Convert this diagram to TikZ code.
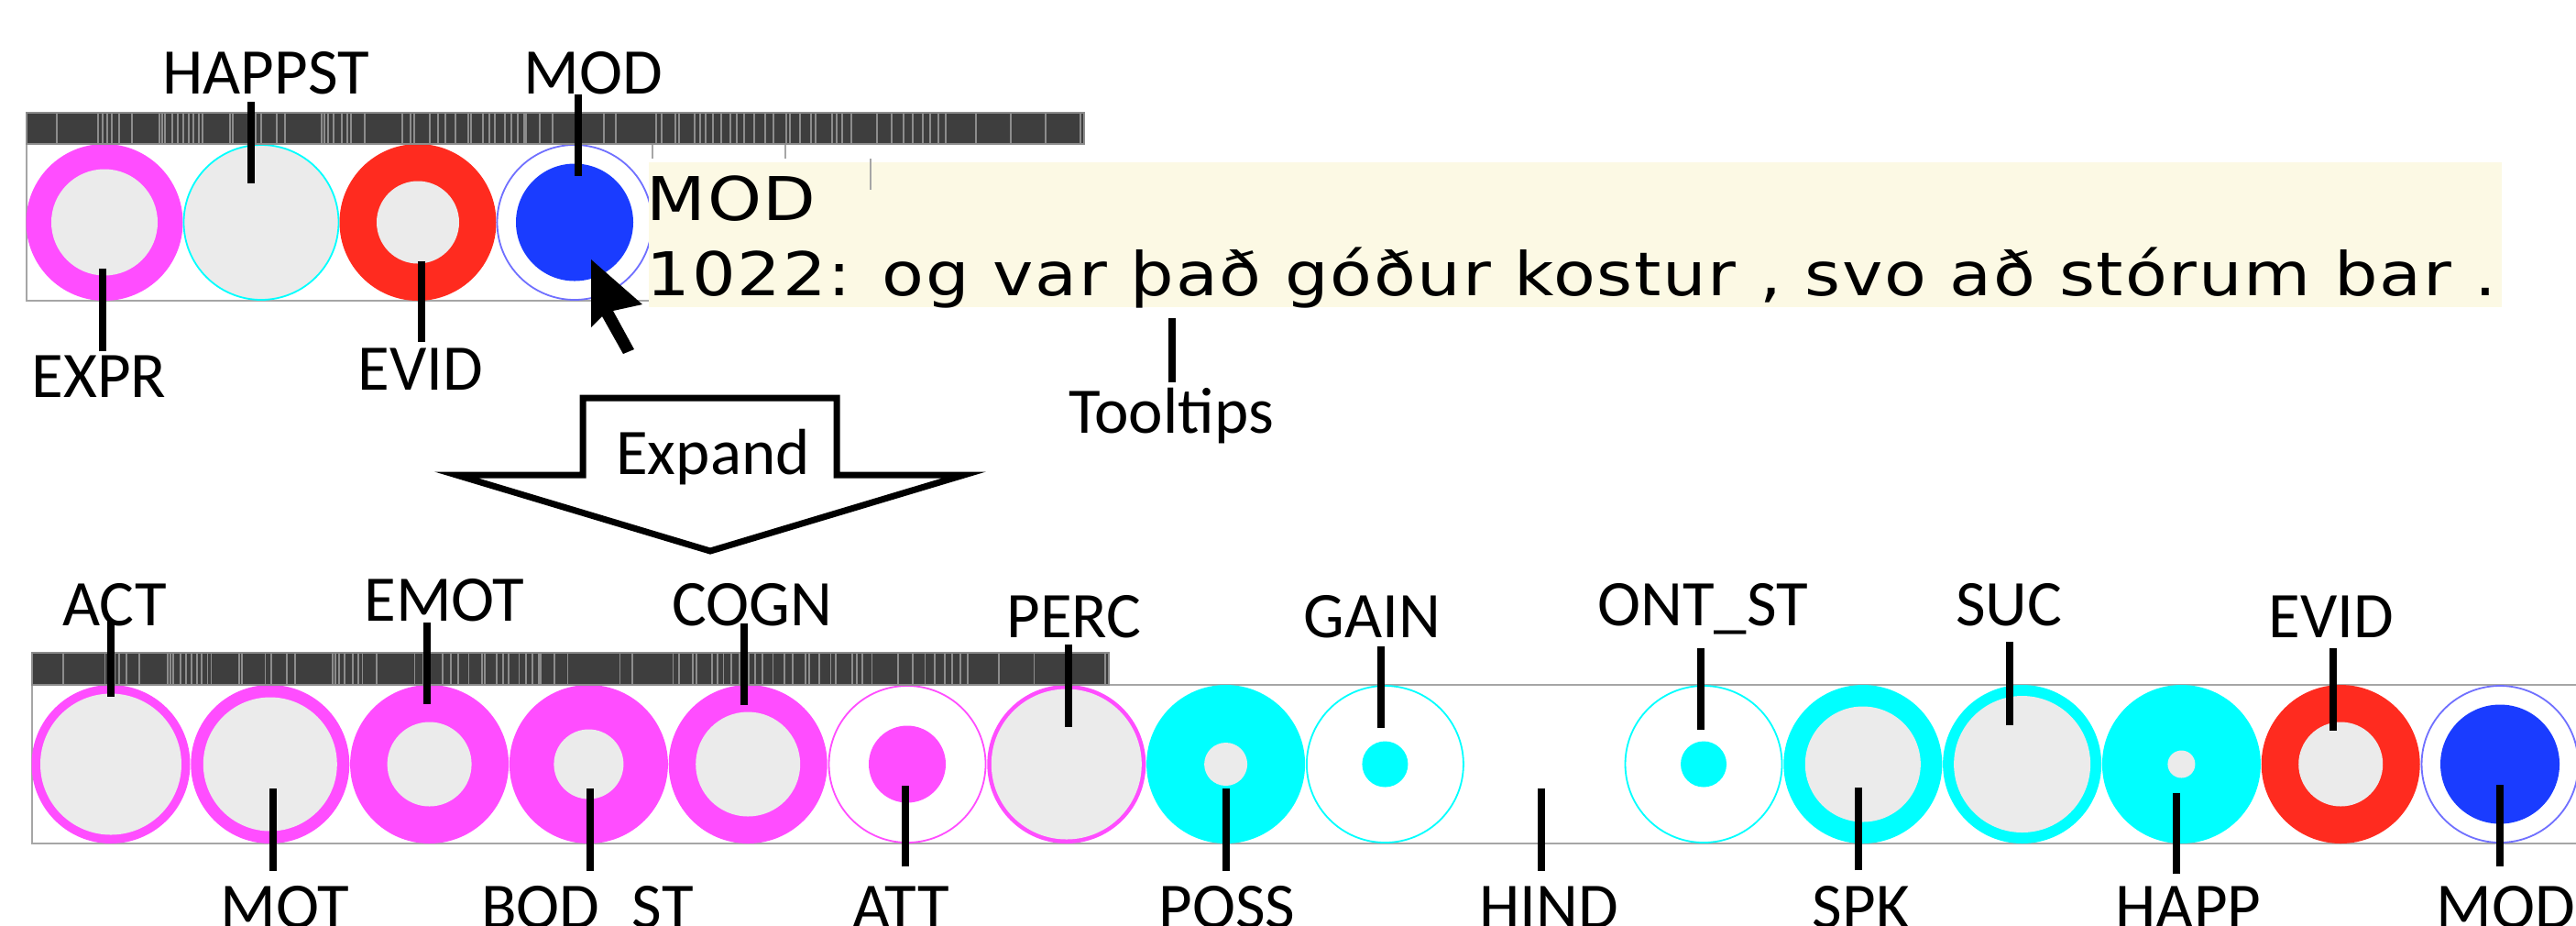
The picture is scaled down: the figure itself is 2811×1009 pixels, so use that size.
\documentclass[tikz,border=0pt]{standalone}
\usepackage{fontspec}
\setmainfont{Carlito}
\newfontfamily\tipfont[FakeStretch=1.14,LetterSpace=2.6]{DejaVu Sans}
\definecolor{mag}{HTML}{FF4DFF}
\definecolor{cya}{HTML}{00FFFF}
\definecolor{rd}{HTML}{FF2B1F}
\definecolor{bl}{HTML}{1A3CFF}
\definecolor{blo}{HTML}{7070FF}
\definecolor{gbg}{HTML}{EBEBEB}
\definecolor{barc}{HTML}{3E3E3E}
\definecolor{barl}{HTML}{8C8C8C}
\definecolor{frm}{HTML}{A6A6A6}
\definecolor{tipbg}{HTML}{FCF9E4}
% ring: x, y, R, colour, inner grey radius
\newcommand{\RingDisk}[5]{\fill[#4] (#1,#2) circle[radius=#3]; \fill[gbg] (#1,#2) circle[radius=#5];}
% thin outline with white fill and a coloured disk: x, y, R, outline colour, disk colour, disk radius
\newcommand{\DotDisk}[6]{\draw[#4, line width=0.45pt, fill=white] (#1,#2) circle[radius=#3-1]; \fill[#5] (#1,#2) circle[radius=#6];}
% callout: name, text, text x, baseline y, line x, line start y (near text), line end y
\newcommand{\Callout}[7]{\node[lab] (t#1) at (#3,#4) {#2}; \coordinate (e#1) at (#5,#7); \draw[leader] (t#1.base -| e#1) ++(0,#6-#4) -- (e#1);}
\def\barpos{33, 78, 83, 88, 93, 101, 115, 145, 148, 151, 159, 165, 171, 177, 182, 188, 192, 222, 225, 250, 256, 273, 282, 322, 325, 329, 335, 344, 350, 354, 369, 410, 419, 423, 440, 449, 457, 468, 482, 485, 498, 505, 511, 522, 529, 536, 543, 545, 560, 574, 630, 643, 687, 693, 708, 712, 729, 735, 741, 749, 758, 768, 775, 783, 794, 806, 815, 829, 833, 844, 856, 861, 879, 884, 890, 900, 928, 944, 957, 967, 978, 986, 995, 1003, 1036, 1074, 1112, 1150}
\begin{document}
\begin{tikzpicture}[x=0.25pt,y=-0.25pt,
 lab/.style={anchor=base, inner sep=0pt, font=\fontsize{17.75pt}{21pt}\selectfont},
 leader/.style={line width=1.85pt, black},
 framel/.style={draw=frm, line width=0.5pt},
 barbox/.style={fill=barc, draw=barl, line width=0.4pt},
 barline/.style={draw=barl, line width=0.45pt},
 tip/.style={anchor=base west, inner sep=0pt, font=\tipfont\fontsize{16.45pt}{20pt}\selectfont},
 tick/.style={draw=frm, line width=0.4pt},
]
\useasboundingbox (0,0) rectangle (2811,1009);
\fill[white] (0,0) rectangle (2811,1009);

% ---------- top panel ----------
\draw[framel] (1183,157) -- (29,157) -- (29,328) -- (708,328);
\RingDisk{114}{242.5}{85.5}{mag}{58}
\draw[cya, line width=0.45pt, fill=gbg] (285,242.5) circle[radius=84.5];
\RingDisk{456}{242.5}{85.5}{rd}{45}
\DotDisk{627}{242.5}{85.5}{blo}{bl}{64}
\filldraw[barbox] (29,123) rectangle (1183,157);
\foreach \t in \barpos {\draw[barline] ({29+\t},123) -- ({29+\t},157);}
\draw[tick] (712,158) -- (712,173);
\draw[tick] (857,158) -- (857,173);
\fill[tipbg] (708,177) rectangle (2730,335);
\draw[tick] (950,173) -- (950,207);
\node[tip] (tipA) at (705,240) {MOD};
\node[tip] (tipB) at (705,322) {1022: og var það góður kostur , svo að stórum bar .};
\fill[black] (645,283) -- (645,357) -- (657,345) -- (680,386) -- (692,381) -- (669,339) -- (701,332) -- cycle;

\Callout{HAPPST}{HAPPST}{290}{102}{274}{111}{200}
\Callout{MODa}{MOD}{647}{102}{631}{103}{192}
\Callout{EXPR}{EXPR}{108}{433}{112}{383}{293}
\Callout{EVIDa}{EVID}{459}{425}{460}{373}{285}
\Callout{Tooltips}{Tooltips}{1278}{472}{1279}{417}{347}

% ---------- expand arrow ----------
\draw[line width=1.75pt, line join=miter, miter limit=10] (636,434) -- (913,434) -- (913,518) -- (1052,518) -- (775,601) -- (498,518) -- (636,518) -- cycle;
\node[lab] (expand) at (778,517) {Expand};

% ---------- bottom panel ----------
\draw[framel] (2811,747) -- (35,747) -- (35,920) -- (2811,920);
\RingDisk{121}{833.5}{86.5}{mag}{77}
\RingDisk{294.8}{833.5}{86.5}{mag}{73}
\RingDisk{468.6}{833.5}{86.5}{mag}{46}
\RingDisk{642.4}{833.5}{86.5}{mag}{38}
\RingDisk{816.2}{833.5}{86.5}{mag}{57}
\DotDisk{990}{833.5}{86.5}{mag}{mag}{42}
\RingDisk{1163.8}{833.5}{86.5}{mag}{82}
\RingDisk{1337.6}{833.5}{86.5}{cya}{23.5}
\DotDisk{1511.4}{833.5}{86.5}{cya}{cya}{25}
\DotDisk{1859}{833.5}{86.5}{cya}{cya}{25}
\RingDisk{2032.8}{833.5}{86.5}{cya}{63}
\RingDisk{2206.6}{833.5}{86.5}{cya}{74.5}
\RingDisk{2380.4}{833.5}{86.5}{cya}{15}
\RingDisk{2554.2}{833.5}{86.5}{rd}{46}
\DotDisk{2728}{833.5}{86.5}{blo}{bl}{65}
\filldraw[barbox] (35,712) rectangle (1210,747);
\foreach \t in \barpos {\draw[barline] ({35+\t*1.0182},712) -- ({35+\t*1.0182},747);}

\Callout{ACT}{ACT}{125}{682}{121}{677}{760}
\Callout{EMOT}{EMOT}{485}{677}{466}{679}{768}
\Callout{COGN}{COGN}{821}{682}{812}{680}{769}
\Callout{PERC}{PERC}{1172}{695}{1166}{703}{793}
\Callout{GAIN}{GAIN}{1497}{695}{1507}{705}{794}
\Callout{ONTST}{ONT\_ST}{1858}{682}{1856}{707}{796}
\Callout{SUC}{SUC}{2192}{682}{2193}{700}{791}
\Callout{EVIDb}{EVID}{2544}{695}{2546}{707}{797}
\Callout{MOT}{MOT}{311}{1012}{298}{950}{860}
\Callout{BODST}{BOD\_ST}{641}{1012}{644}{950}{860}
\Callout{ATT}{ATT}{983}{1012}{988}{945}{857}
\Callout{POSS}{POSS}{1339}{1012}{1338}{950}{860}
\Callout{HIND}{HIND}{1690}{1012}{1682}{950}{860}
\Callout{SPK}{SPK}{2031}{1012}{2028}{949}{859}
\Callout{HAPP}{HAPP}{2388}{1012}{2375}{953}{865}
\Callout{MODb}{MOD}{2734}{1012}{2728}{945}{856}
\end{tikzpicture}
\end{document}
